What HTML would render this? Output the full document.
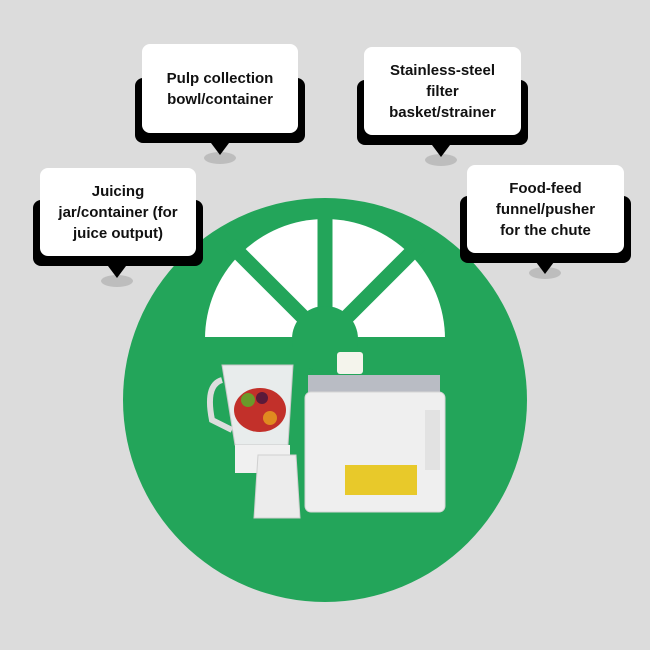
<!DOCTYPE html>
<html><head><style>
html,body{margin:0;padding:0;background:#dcdcdc;}
.wrap{position:relative;width:650px;height:650px;overflow:hidden;font-family:"Liberation Sans",sans-serif;}
.sh{position:absolute;background:#000;border-radius:8px;}
.bx{position:absolute;background:#fff;border-radius:8px;display:flex;align-items:center;justify-content:center;text-align:center;font-weight:bold;font-size:15px;line-height:21px;color:#111;}
</style></head><body><div class="wrap">
<svg width="650" height="650" style="position:absolute;left:0;top:0">
<circle cx="325" cy="400" r="202" fill="#23a55a"/>
<path d="M205 339 A120 120 0 0 1 445 339 Z" fill="#fff"/>
<g stroke="#23a55a" stroke-width="15">
<line x1="325" y1="339" x2="325" y2="210"/>
<line x1="325" y1="339" x2="230" y2="244"/>
<line x1="325" y1="339" x2="420" y2="244"/>
</g>
<circle cx="325" cy="339" r="33" fill="#23a55a"/>
<rect x="190" y="337" width="270" height="4" fill="#23a55a"/>
<!-- pointers -->
<ellipse cx="220" cy="158" rx="16" ry="6" fill="#bdbdbd"/>
<polygon points="211,143 229,143 220,155" fill="#000"/>
<ellipse cx="441" cy="160" rx="16" ry="6" fill="#bdbdbd"/>
<polygon points="432,145 450,145 441,157" fill="#000"/>
<ellipse cx="117" cy="281" rx="16" ry="6" fill="#bdbdbd"/>
<polygon points="108,266 126,266 117,278" fill="#000"/>
<ellipse cx="545" cy="273" rx="16" ry="6" fill="#bdbdbd"/>
<polygon points="536,262 554,262 545,274" fill="#000"/>
<!-- appliance -->
<path d="M222 365 L293 365 L288 445 L235 445 Z" fill="#e8ecec" stroke="#c8c8c8"/>
<path d="M222 380 Q205 385 212 420 L232 430" fill="none" stroke="#ddd" stroke-width="6"/>
<ellipse cx="260" cy="410" rx="26" ry="22" fill="#c2302a"/>
<circle cx="248" cy="400" r="7" fill="#6a9a2a"/><circle cx="270" cy="418" r="7" fill="#e08a20"/><circle cx="262" cy="398" r="6" fill="#5a1a3a"/>
<rect x="235" y="445" width="55" height="28" fill="#f0f0f0"/>
<path d="M258 455 L296 455 L300 518 L254 518 Z" fill="#ececec" stroke="#d0d0d0"/>
<rect x="337" y="352" width="26" height="22" rx="3" fill="#f4f4ec"/>
<path d="M308 375 L440 375 L440 395 L308 395 Z" fill="#b9bcc4"/>
<rect x="305" y="392" width="140" height="120" rx="6" fill="#efefef" stroke="#d6d6d6"/>
<rect x="345" y="465" width="72" height="30" fill="#e8c92a"/>
<rect x="425" y="410" width="15" height="60" fill="#e2e2e2"/>
</svg>
<div class="sh" style="left:135px;top:78px;width:170px;height:65px"></div>
<div class="bx" style="left:142px;top:44px;width:156px;height:89px">Pulp collection<br>bowl/container</div>
<div class="sh" style="left:357px;top:80px;width:171px;height:65px"></div>
<div class="bx" style="left:364px;top:47px;width:157px;height:88px">Stainless-steel<br>filter<br>basket/strainer</div>
<div class="sh" style="left:33px;top:200px;width:170px;height:66px"></div>
<div class="bx" style="left:40px;top:168px;width:156px;height:88px">Juicing<br>jar/container (for<br>juice output)</div>
<div class="sh" style="left:460px;top:196px;width:171px;height:67px"></div>
<div class="bx" style="left:467px;top:165px;width:157px;height:88px">Food-feed<br>funnel/pusher<br>for the chute</div>
</div></body></html>
